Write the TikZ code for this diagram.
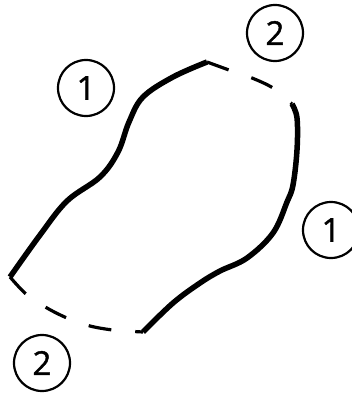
\documentclass[tikz,border=0pt]{standalone}
\usepackage{fontspec}
\setmainfont{Open Sans}[FakeBold=1.2]
\tikzset{
  solidline/.style={line width=5.5pt, line join=round},
  dashline/.style={line width=3.2pt, dash pattern=on 23pt off 24pt},
  badge/.style={circle, draw, line width=2.2pt, minimum size=56pt, inner sep=0pt, font=\fontsize{33}{33}\selectfont}
}
\begin{document}
\begin{tikzpicture}[x=1pt, y=-1pt]
\useasboundingbox (0,0) rectangle (351,396);
% solid left
\draw[solidline] plot[smooth, tension=0.6] coordinates {(10,277) (40,235) (67,201) (100,177) (118,152) (129,122) (143,97) (173,77) (207,62)};
% dashed top
\draw[dashline] plot[smooth] coordinates {(207,62) (229,70) (252,78) (273,88) (292,104)};
% solid right
\draw[solidline] plot[smooth, tension=0.6] coordinates {(292,104) (297,118) (297,150) (293,185) (287,202) (273,233) (247,258) (220,271) (200,283) (173,303) (143,332)};
% dashed bottom
\draw[dashline] plot[smooth] coordinates {(10,277) (26,294) (47,308) (67,318) (90,326) (113,330) (143,332)};
% badges
\node[badge] (c2a) at (275,33) {2};
\node[badge] (c1a) at (86,88) {1};
\node[badge] (c1b) at (331,230) {1};
\node[badge] (c2b) at (42,363) {2};
\end{tikzpicture}
\end{document}
